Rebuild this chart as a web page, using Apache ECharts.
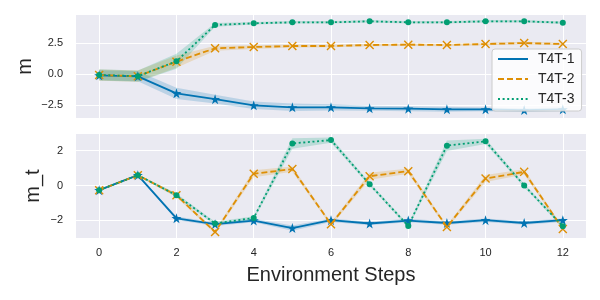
<!DOCTYPE html>
<html><head><meta charset="utf-8">
<script src="https://cdn.jsdelivr.net/npm/echarts@6/dist/echarts.min.js"></script>
<style>html,body{margin:0;padding:0;background:#fff}#c{width:600px;height:300px}</style>
</head><body><div id="c"></div>
<script>
const steps = [0,1,2,3,4,5,6,7,8,9,10,11,12];
const seriesNames = ['T4T-1','T4T-2','T4T-3'];
// top panel: m
const mT1 = [-0.08,-0.16,-1.53,-2.0,-2.5,-2.66,-2.66,-2.74,-2.77,-2.82,-2.82,-2.88,-2.82];
const mT2 = [-0.06,-0.15,1.02,2.1,2.2,2.28,2.28,2.36,2.39,2.36,2.44,2.52,2.44];
const mT3 = [-0.05,-0.15,1.05,3.98,4.11,4.19,4.19,4.27,4.19,4.19,4.27,4.27,4.16];
const mCI1 = [0.4,0.4,0.45,0.35,0.3,0.3,0.25,0.2,0.2,0.2,0.15,0.15,0.15];
const mCI2 = [0.45,0.45,0.5,0.2,0.15,0.12,0.1,0.1,0.1,0.1,0.1,0.1,0.1];
const mCI3 = [0.45,0.45,0.6,0.15,0.1,0.1,0.1,0.1,0.1,0.1,0.1,0.1,0.1];
// bottom panel: m_t
const mtT1 = [-0.27,0.59,-1.88,-2.22,-2.01,-2.44,-1.99,-2.18,-2.01,-2.15,-1.99,-2.15,-1.99];
const mtT2 = [-0.27,0.59,-0.56,-2.67,0.67,0.94,-2.22,0.53,0.82,-2.38,0.4,0.78,-2.49];
const mtT3 = [-0.27,0.59,-0.56,-2.18,-1.86,2.41,2.6,0.07,-2.32,2.28,2.53,0.0,-2.34];
const mtCI1 = [0.05,0.05,0.1,0.1,0.1,0.15,0.1,0.1,0.1,0.1,0.1,0.1,0.1];
const mtCI2 = [0.05,0.05,0.1,0.1,0.2,0.15,0.1,0.2,0.15,0.1,0.2,0.15,0.1];
const mtCI3 = [0.05,0.05,0.1,0.1,0.1,0.3,0.15,0.1,0.1,0.3,0.15,0.1,0.1];
const xTicks = [0,2,4,6,8,10,12];
const yTicksTop = [-2.5,0,2.5];
const yTicksBottom = [-2,0,2];

const colors = ['#0173B2','#DE8F05','#029E73'];
const bandColors = ['rgba(1,115,178,0.2)','rgba(222,143,5,0.2)','rgba(2,158,115,0.2)'];
const STAR = 'path://M0,-1 L0.2245,-0.309 L0.951,-0.309 L0.363,0.118 L0.588,0.809 L0,0.382 L-0.588,0.809 L-0.363,0.118 L-0.951,-0.309 L-0.2245,-0.309 Z';
const XS = 'path://M-1,-0.78 L-0.78,-1 L0,-0.22 L0.78,-1 L1,-0.78 L0.22,0 L1,0.78 L0.78,1 L0,0.22 L-0.78,1 L-1,0.78 L-0.22,0 Z';
const symbols = [STAR, XS, 'circle'];
const symbolSizes = [10, 9, 6];
const lineTypes = ['solid', [6,3], [2,2.6]];
const FONT = 'Liberation Sans';
const fmt = v => { const s = (Math.abs(v) < 1e-9 ? 0 : v); return String(s).replace('-', '\u2212'); };
const fmt1 = v => { const s = (Math.abs(v) < 1e-9 ? 0 : v); return s.toFixed(1).replace('-', '\u2212'); };

function bandSeries(means, ci, idx, axisIdx) {
  const data = steps.map((x,i) => [x, means[i] - ci[i], means[i] + ci[i]]);
  return {
    type:'custom', xAxisIndex:axisIdx, yAxisIndex:axisIdx, data, silent:true, z:1,
    encode:{x:0, y:[1,2]},
    renderItem:(params, api) => {
      if (params.dataIndex !== 0) return null;
      const upper = data.map(d => api.coord([d[0], d[2]]));
      const lower = data.map(d => api.coord([d[0], d[1]])).reverse();
      return {type:'polygon', shape:{points: upper.concat(lower)}, style:{fill:bandColors[idx]}};
    }
  };
}
function mainSeries(means, idx, axisIdx) {
  return {type:'line', name:seriesNames[idx], xAxisIndex:axisIdx, yAxisIndex:axisIdx,
    data: steps.map((x,i)=>[x, means[i]]),
    symbol:symbols[idx], symbolSize:symbolSizes[idx], showSymbol:true,
    itemStyle:{color:colors[idx], borderWidth:0},
    lineStyle:{color:colors[idx], width:1.8, type:lineTypes[idx], cap:'butt'},
    z:2+idx, animation:false};
}
const topMeans=[mT1,mT2,mT3], topCI=[mCI1,mCI2,mCI3];
const botMeans=[mtT1,mtT2,mtT3], botCI=[mtCI1,mtCI2,mtCI3];
let series=[];
for(let i=0;i<3;i++){ series.push(bandSeries(topMeans[i],topCI[i],i,0)); }
for(let i=0;i<3;i++){ series.push(bandSeries(botMeans[i],botCI[i],i,1)); }
for(let i=0;i<3;i++){ series.push(mainSeries(topMeans[i],i,0)); }
for(let i=0;i<3;i++){ series.push(mainSeries(botMeans[i],i,1)); }

const axisCommon = {axisLine:{show:false}, axisTick:{show:false},
  splitLine:{show:true, lineStyle:{color:'#ffffff', width:1}}};
const labelStyle = {color:'#262626', fontSize:11, fontFamily:FONT};

const option = {
  animation:false,
  backgroundColor:'#ffffff',
  grid:[
    {left:76, right:14, top:15, height:103, show:true, backgroundColor:'#EAEAF2', borderWidth:0},
    {left:76, right:14, top:134, height:104, show:true, backgroundColor:'#EAEAF2', borderWidth:0}
  ],
  xAxis:[
    Object.assign({type:'value', gridIndex:0, min:-0.6, max:12.6,
      axisLabel:{show:false, customValues:xTicks}}, axisCommon,
      {axisTick:{show:false, customValues:xTicks}}),
    Object.assign({type:'value', gridIndex:1, min:-0.6, max:12.6,
      name:'Environment Steps', nameLocation:'middle', nameGap:27,
      nameTextStyle:{color:'#262626', fontSize:20, fontFamily:FONT},
      axisLabel:Object.assign({customValues:xTicks, margin:9, formatter:fmt}, labelStyle)}, axisCommon,
      {axisTick:{show:false, customValues:xTicks}})
  ],
  yAxis:[
    Object.assign({type:'value', gridIndex:0, min:-3.52, max:4.78,
      name:'m', nameLocation:'middle', nameGap:41, nameMoveOverlap:false,
      nameTextStyle:{color:'#262626', fontSize:20, fontFamily:FONT},
      axisLabel:Object.assign({customValues:yTicksTop, margin:13, formatter:fmt1}, labelStyle)}, axisCommon,
      {axisTick:{show:false, customValues:yTicksTop}}),
    Object.assign({type:'value', gridIndex:1, min:-3.01, max:2.95,
      name:'m_t', nameLocation:'middle', nameGap:33, nameMoveOverlap:false,
      nameTextStyle:{color:'#262626', fontSize:20, fontFamily:FONT},
      axisLabel:Object.assign({customValues:yTicksBottom, margin:13, formatter:fmt}, labelStyle)}, axisCommon,
      {axisTick:{show:false, customValues:yTicksBottom}})
  ],
  legend:{
    data:seriesNames, orient:'vertical', left:492, top:49,
    itemWidth:30, itemHeight:14, itemGap:6,
    padding:[3,7,5,5],
    backgroundColor:'rgba(255,255,255,0.8)', borderColor:'#cccccc', borderWidth:1, borderRadius:3,
    itemStyle:{opacity:0},
    textStyle:{color:'#262626', fontSize:14, fontFamily:FONT, padding:[0,0,0,5]}
  },
  series
};
const chart = echarts.init(document.getElementById('c'), null, {renderer:'canvas'});
chart.setOption(option);
</script></body></html>
